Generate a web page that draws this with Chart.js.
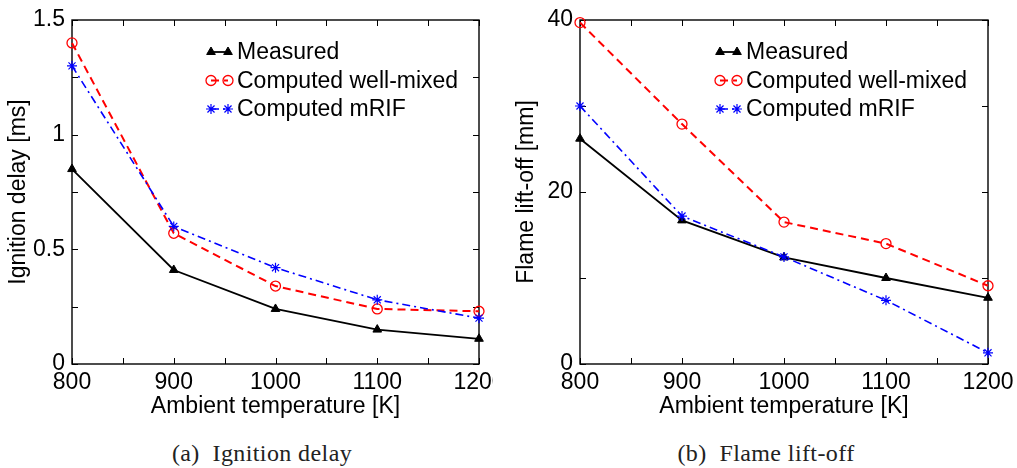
<!DOCTYPE html>
<html>
<head>
<meta charset="utf-8">
<script src="https://cdn.jsdelivr.net/npm/chart.js@4.4.1/dist/chart.umd.min.js"></script>
<style>
  body { margin: 0; background: #fff; width: 1017px; height: 468px; position: relative; overflow: hidden; }
  canvas { position: absolute; top: 0; }
  #delayChart { left: 0; }
  #liftChart { left: 508px; }
  .cap { position: absolute; top: 440px; line-height: 26px; font-family: "Liberation Serif", serif; font-size: 24px; letter-spacing: 0.4px; color: #222; white-space: pre; transform: translateX(-50%); }
</style>
</head>
<body>
<canvas id="delayChart" width="493" height="424"></canvas>
<canvas id="liftChart" width="509" height="424"></canvas>
<div class="cap" style="left:262px">(a)  Ignition delay</div>
<div class="cap" style="left:766px">(b)  Flame lift-off</div>
<script>
const temps = [800, 900, 1000, 1100, 1200];
const xLabels = [800, 900, 1000, 1100, 1200];

const delayMeasured = [0.85, 0.41, 0.24, 0.15, 0.11];
const delayWellMixed = [1.40, 0.57, 0.34, 0.24, 0.23];
const delayMrif = [1.30, 0.60, 0.42, 0.28, 0.20];
const delayLabels = [0, 0.5, 1, 1.5];

const liftMeasured = [26.2, 16.7, 12.4, 10.0, 7.7];
const liftWellMixed = [39.7, 27.9, 16.5, 14.0, 9.1];
const liftMrif = [30.0, 17.2, 12.45, 7.4, 1.3];
const liftLabels = [0, 20, 40];

const seriesNames = ['Measured', 'Computed well-mixed', 'Computed mRIF'];

Chart.defaults.font.family = '"Liberation Sans", Arial, sans-serif';
Chart.defaults.font.size = 23;
Chart.defaults.color = '#000';

// box with inward ticks, matlab style
const framePlugin = {
    id: 'frame',
    beforeDatasetsDraw(chart) {
        const { ctx, chartArea: a, scales } = chart;
        ctx.save();
        ctx.strokeStyle = '#000';
        ctx.lineWidth = 1.4;
        ctx.setLineDash([]);
        ctx.strokeRect(a.left, a.top, a.right - a.left, a.bottom - a.top);
        const tl = 6;
        ctx.beginPath();
        scales.x.ticks.forEach(t => {
            const px = Math.round(scales.x.getPixelForValue(t.value)) + 0.5;
            ctx.moveTo(px, a.bottom); ctx.lineTo(px, a.bottom - tl);
            ctx.moveTo(px, a.top); ctx.lineTo(px, a.top + tl);
        });
        scales.y.ticks.forEach(t => {
            const py = Math.round(scales.y.getPixelForValue(t.value)) + 0.5;
            ctx.moveTo(a.left, py); ctx.lineTo(a.left + tl, py);
            ctx.moveTo(a.right, py); ctx.lineTo(a.right - tl, py);
        });
        ctx.lineWidth = 1;
        ctx.stroke();
        ctx.restore();
    },
    afterDraw(chart) {
        const { ctx, chartArea: a } = chart;
        const textX = a.right - 242;
        ctx.save();
        chart.data.datasets.forEach((ds, i) => {
            const y = a.top + 32 + i * 28.5;
            const x1 = textX - 26, x2 = textX - 9;
            ctx.strokeStyle = ds.borderColor;
            ctx.lineWidth = ds.borderWidth;
            ctx.setLineDash(ds.borderDash || []);
            ctx.beginPath();
            ctx.moveTo(x1, y); ctx.lineTo(x2, y);
            ctx.stroke();
            ctx.setLineDash([]);
            ctx.fillStyle = ds.pointBackgroundColor;
            ctx.strokeStyle = ds.pointBorderColor;
            ctx.lineWidth = ds.pointBorderWidth;
            [x1, x2].forEach(px => Chart.helpers.drawPoint(ctx, {
                pointStyle: ds.pointStyle, radius: ds.pointRadius, rotation: 0, borderWidth: ds.pointBorderWidth
            }, px, y));
            ctx.fillStyle = '#000';
            ctx.font = '23px "Liberation Sans", Arial, sans-serif';
            ctx.textAlign = 'left';
            ctx.textBaseline = 'middle';
            ctx.fillText(ds.label, textX, y + 1);
        });
        ctx.restore();
    }
};

function makeSets(measured, wellMixed, mrif) {
    return [{
        label: seriesNames[0],
        data: temps.map((t, i) => ({ x: t, y: measured[i] })),
        borderColor: '#000', borderWidth: 1.8,
        pointStyle: 'triangle', pointRadius: 5,
        pointBackgroundColor: '#000', pointBorderColor: '#000', pointBorderWidth: 1,
        clip: false, order: 3
    }, {
        label: seriesNames[1],
        data: temps.map((t, i) => ({ x: t, y: wellMixed[i] })),
        borderColor: '#ff0000', borderWidth: 2, borderDash: [8, 5],
        pointStyle: 'circle', pointRadius: 5,
        pointBackgroundColor: 'rgba(0,0,0,0)', pointBorderColor: '#ff0000', pointBorderWidth: 1.3,
        clip: false, order: 2
    }, {
        label: seriesNames[2],
        data: temps.map((t, i) => ({ x: t, y: mrif[i] })),
        borderColor: '#0000ff', borderWidth: 1.6, borderDash: [8, 4, 2, 4],
        pointStyle: 'star', pointRadius: 5,
        pointBackgroundColor: '#0000ff', pointBorderColor: '#0000ff', pointBorderWidth: 1.2,
        clip: false, order: 1
    }];
}

function makeChart(id, sets, yMax, yStep, yLabels, yTitle, padRight) {
    return new Chart(document.getElementById(id), {
        type: 'line',
        data: { datasets: sets },
        options: {
            responsive: false,
            devicePixelRatio: 1,
            animation: false,
            layout: { padding: { left: 0, top: 20, right: padRight, bottom: 0 } },
            plugins: { legend: { display: false }, tooltip: { enabled: false } },
            elements: { line: { tension: 0 } },
            scales: {
                x: {
                    type: 'linear', min: 800, max: 1200,
                    grid: { display: false, drawTicks: false },
                    border: { display: false },
                    ticks: {
                        stepSize: 50, padding: 5, maxRotation: 0, autoSkip: false,
                        callback: v => xLabels.includes(v) ? String(v) : ''
                    },
                    title: { display: true, text: 'Ambient temperature [K]', padding: 4 },
                    afterFit(s) { s.height = 60; s.paddingLeft = 0; s.paddingRight = 0; }
                },
                y: {
                    min: 0, max: yMax,
                    grid: { display: false, drawTicks: false },
                    border: { display: false },
                    ticks: {
                        stepSize: yStep, padding: 7, autoSkip: false,
                        callback: v => yLabels.some(l => Math.abs(l - v) < 1e-9) ? String(v) : ''
                    },
                    title: { display: true, text: yTitle, padding: 5 },
                    afterFit(s) { s.width = 72; s.paddingTop = 0; s.paddingBottom = 0; }
                }
            }
        },
        plugins: [framePlugin]
    });
}

makeChart('delayChart', makeSets(delayMeasured, delayWellMixed, delayMrif), 1.5, 0.25, delayLabels, 'Ignition delay [ms]', 14);
makeChart('liftChart', makeSets(liftMeasured, liftWellMixed, liftMrif), 40, 10, liftLabels, 'Flame lift-off [mm]', 29);
</script>
</body>
</html>
